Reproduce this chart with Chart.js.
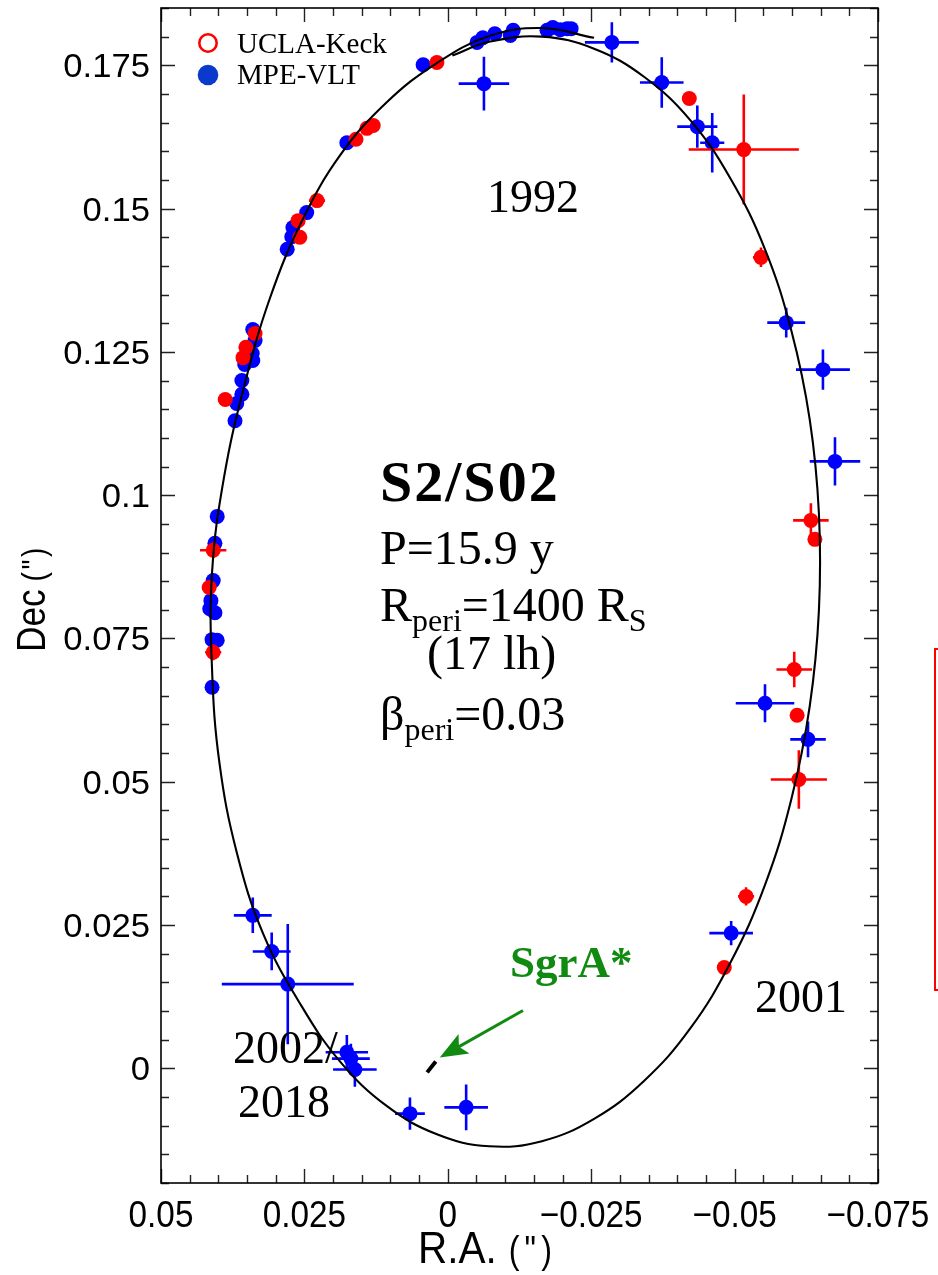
<!DOCTYPE html>
<html>
<head>
<meta charset="utf-8">
<title>S2/S02 orbit</title>
<script src="https://cdn.jsdelivr.net/npm/chart.js@4.4.0/dist/chart.umd.min.js"></script>
<style>
  html, body { margin: 0; padding: 0; background: #fff; }
  #wrap { width: 938px; height: 1275px; }
</style>
</head>
<body>
<div id="wrap"><canvas id="orbitChart" width="938" height="1275"></canvas></div>
<script>
// S2 positions relative to SgrA*, offsets in arcsec (R.A., Dec)

// UCLA-Keck
const keckRA     = [0.0019, 0.0160, 0.0141, 0.0130, 0.0228, 0.0261, 0.0258, 0.0336, 0.0352, 0.0357, 0.0388, 0.0409,
                    0.0416, 0.0409, -0.0421, -0.0516, -0.0546, -0.0633, -0.0640, -0.0604, -0.0609, -0.0612, -0.0520, -0.0482];
const keckDec    = [0.1755, 0.1621, 0.1640, 0.1645, 0.1514, 0.1479, 0.1450, 0.1282, 0.1258, 0.1240, 0.1167, 0.0904,
                    0.0839, 0.0726, 0.1692, 0.1603, 0.1415, 0.0956, 0.0923, 0.0696, 0.0616, 0.0504, 0.0300, 0.0176];
const keckRAErr  = [0, 0, 0, 0, 0.0014, 0, 0, 0, 0, 0, 0, 0.0023,
                    0, 0.0014, 0, 0.0096, 0.0014, 0.0031, 0.0009, 0.0031, 0, 0.0049, 0.0014, 0.0010];
const keckDecErr = [0, 0, 0, 0, 0.0010, 0, 0, 0, 0, 0, 0, 0.0014,
                    0, 0.0014, 0, 0.0096, 0.0017, 0.0030, 0.0009, 0.0031, 0, 0.0051, 0.0016, 0.0010];

// MPE-VLT
const vltRA     = [0.0043, -0.0051, -0.0061, -0.0082, -0.0109, -0.0114, -0.0173, -0.0183, -0.0196, -0.0208, -0.0215,
                   -0.0063, -0.0286, -0.0373, -0.0435, -0.0461, -0.0590, -0.0654, -0.0675, -0.0553, -0.0628, -0.0494,
                   0.0176, 0.0246, 0.0270, 0.0272, 0.0280, 0.0340, 0.0336, 0.0341, 0.0340, 0.0354, 0.0359, 0.0359,
                   0.0368, 0.0371, 0.0402, 0.0406, 0.0409, 0.0413, 0.0415, 0.0406, 0.0411, 0.0402, 0.0411,
                   0.0340, 0.0307, 0.0279, 0.0176, 0.0169, 0.0162, 0.0066, -0.0032];
const vltDec    = [0.1751, 0.1790, 0.1798, 0.1805, 0.1802, 0.1811, 0.1811, 0.1816, 0.1812, 0.1814, 0.1814,
                   0.1718, 0.1790, 0.1720, 0.1643, 0.1615, 0.1301, 0.1219, 0.1059, 0.0637, 0.0574, 0.0236,
                   0.1615, 0.1493, 0.1467, 0.1451, 0.1429, 0.1289, 0.1270, 0.1247, 0.1235, 0.1228, 0.1200, 0.1176,
                   0.1160, 0.1130, 0.0963, 0.0916, 0.0851, 0.0816, 0.0802, 0.0795, 0.0748, 0.0747, 0.0665,
                   0.0267, 0.0204, 0.0147, 0.0028, 0.0017, -0.0002, -0.0079, -0.0068];
const vltRAErr  = [0, 0, 0, 0, 0, 0, 0, 0, 0, 0, 0,
                   0.0044, 0.0047, 0.0038, 0.0035, 0.0021, 0.0033, 0.0047, 0.0044, 0.0051, 0.0031, 0.0038,
                   0, 0, 0, 0, 0, 0, 0, 0, 0, 0, 0, 0,
                   0, 0, 0, 0, 0, 0, 0, 0, 0, 0, 0,
                   0.0033, 0.0033, 0.0115, 0.0037, 0.0033, 0.0038, 0.0026, 0.0038];
const vltDecErr = [0, 0, 0, 0, 0, 0, 0, 0, 0, 0, 0,
                   0.0047, 0.0035, 0.0044, 0.0037, 0.0052, 0.0026, 0.0035, 0.0042, 0.0033, 0.0031, 0.0021,
                   0, 0, 0, 0, 0, 0, 0, 0, 0, 0, 0, 0,
                   0, 0, 0, 0, 0, 0, 0, 0, 0, 0, 0,
                   0.0031, 0.0033, 0.0105, 0.0030, 0.0026, 0.0030, 0.0028, 0.0040];

// Best-fit orbit, a little more than one revolution (the two arcs overlap at the top)
const orbitRA  = [-0.0008, -0.0072, -0.0164, -0.0255, -0.0342, -0.0423, -0.0493, -0.0553, -0.0599, -0.0631,
                  -0.0647, -0.0647, -0.0631, -0.0599, -0.0553, -0.0493, -0.0423, -0.0342, -0.0255, -0.0164,
                  -0.0072, 0.0019, 0.0106, 0.0187, 0.0257, 0.0322, 0.0368, 0.0398, 0.0411, 0.0411,
                  0.0390, 0.0354, 0.0310, 0.0254, 0.0187, 0.0106, 0.0019, -0.0072, -0.0164, -0.0255];
const orbitDec = [0.1767, 0.1791, 0.1800, 0.1779, 0.1730, 0.1654, 0.1552, 0.1429, 0.1287, 0.1132,
                  0.0968, 0.0799, 0.0632, 0.0470, 0.0320, 0.0185, 0.0070, -0.0022, -0.0088, -0.0127,
                  -0.0136, -0.0115, -0.0066, 0.0011, 0.0112, 0.0235, 0.0377, 0.0532, 0.0696, 0.0865,
                  0.1032, 0.1194, 0.1344, 0.1479, 0.1594, 0.1686, 0.1754, 0.1801, 0.1815, 0.1798];

// SgrA* position marker
const sgrRA  = [0.0036, 0.0021];
const sgrDec = [-0.0007, 0.0012];

// Axes
const raMin = -0.075, raMax = 0.05;
const decMin = -0.02, decMax = 0.185;
const minorStep = 0.005;
const raTicks = [0.05, 0.025, 0, -0.025, -0.05, -0.075];
const raTickLabels = ['0.05', '0.025', '0', '\u22120.025', '\u22120.05', '\u22120.075'];
const decTicks = [0, 0.025, 0.05, 0.075, 0.1, 0.125, 0.15, 0.175];
const decTickLabels = ['0', '0.025', '0.05', '0.075', '0.1', '0.125', '0.15', '0.175'];

const SERIF = '"Liberation Serif", "Times New Roman", serif';
const SANS = '"Liberation Sans", Arial, Helvetica, sans-serif';

function toPoints(xs, ys) {
    return xs.map((v, i) => ({ x: v, y: ys[i] }));
}

// text drawn with a horizontal squeeze/stretch factor
function drawScaled(ctx, text, x, y, font, sx, align, spacing) {
    ctx.save();
    ctx.font = font;
    ctx.letterSpacing = (spacing || 0) + 'px';
    const w = ctx.measureText(text).width * sx;
    let x0 = x;
    if (align === 'center') x0 = x - w / 2;
    else if (align === 'right') x0 = x - w;
    ctx.translate(x0, y);
    ctx.scale(sx, 1);
    ctx.textAlign = 'left';
    ctx.fillText(text, 0, 0);
    ctx.restore();
    return w;
}

// runs of text with sub-scripts: [text, fontSize, dy, bold]
function drawRuns(ctx, x, y, runs) {
    let cx = x;
    runs.forEach(r => {
        ctx.font = (r[3] ? 'bold ' : '') + r[1] + 'px ' + SERIF;
        ctx.fillText(r[0], cx, y + r[2]);
        cx += ctx.measureText(r[0]).width;
    });
}

// error bars, drawn under each dataset's markers
const errorBars = {
    id: 'errorBars',
    beforeDatasetDraw(chart, args) {
        const ds = chart.data.datasets[args.index];
        if (!ds.errX) return;
        const { ctx, scales: { x, y } } = chart;
        ctx.save();
        ctx.strokeStyle = ds.backgroundColor;
        ctx.lineWidth = 2.6;
        ds.data.forEach((p, i) => {
            const ex = ds.errX[i], ey = ds.errY[i];
            const px = x.getPixelForValue(p.x), py = y.getPixelForValue(p.y);
            ctx.beginPath();
            if (ex > 0) {
                ctx.moveTo(x.getPixelForValue(p.x - ex), py);
                ctx.lineTo(x.getPixelForValue(p.x + ex), py);
            }
            if (ey > 0) {
                ctx.moveTo(px, y.getPixelForValue(p.y - ey));
                ctx.lineTo(px, y.getPixelForValue(p.y + ey));
            }
            ctx.stroke();
        });
        ctx.restore();
    }
};

// box frame with inward ticks on all four sides, tick labels, axis titles
const frameAxes = {
    id: 'frameAxes',
    beforeDatasetsDraw(chart) {
        const { ctx, chartArea: a, scales: { x, y } } = chart;
        ctx.save();
        ctx.strokeStyle = '#222';
        ctx.lineWidth = 1.4;
        ctx.beginPath();
        for (let k = Math.round(raMin / minorStep); k <= Math.round(raMax / minorStep); k++) {
            const px = Math.round(x.getPixelForValue(k * minorStep)) + 0.5;
            const len = k % 5 === 0 ? 14 : 8;
            ctx.moveTo(px, a.bottom); ctx.lineTo(px, a.bottom - len);
            ctx.moveTo(px, a.top); ctx.lineTo(px, a.top + len);
        }
        for (let k = Math.ceil(decMin / minorStep); k <= Math.floor(decMax / minorStep); k++) {
            const py = Math.round(y.getPixelForValue(k * minorStep)) + 0.5;
            const len = k % 5 === 0 ? 14 : 8;
            ctx.moveTo(a.left, py); ctx.lineTo(a.left + len, py);
            ctx.moveTo(a.right, py); ctx.lineTo(a.right - len, py);
        }
        ctx.stroke();
        ctx.strokeStyle = '#000';
        ctx.lineWidth = 1.6;
        ctx.strokeRect(a.left, a.top, a.right - a.left, a.bottom - a.top);

        ctx.fillStyle = '#000';
        ctx.textBaseline = 'alphabetic';
        raTicks.forEach((v, i) => {
            drawScaled(ctx, raTickLabels[i], x.getPixelForValue(v), a.bottom + 44, '37px ' + SANS, 0.9, 'center');
        });
        decTicks.forEach((v, i) => {
            drawScaled(ctx, decTickLabels[i], a.left - 11, y.getPixelForValue(v) + 12, '33px ' + SANS, 1.05, 'right');
        });

        // axis titles
        let w = drawScaled(ctx, 'R.A.', 418, 1263, '44px ' + SANS, 0.92, 'left');
        drawScaled(ctx, '(")', 418 + w + 12, 1263, '38px ' + SANS, 0.85, 'left', 6);
        ctx.save();
        ctx.translate(45, 652);
        ctx.rotate(-Math.PI / 2);
        w = drawScaled(ctx, 'Dec', 0, 0, '40px ' + SANS, 0.88, 'left');
        drawScaled(ctx, '(")', w + 8, 0, '33px ' + SANS, 0.85, 'left', 3);
        ctx.restore();
        ctx.restore();
    },
    afterDraw(chart) {
        const { ctx, scales: { x, y } } = chart;
        ctx.save();
        ctx.fillStyle = '#000';
        ctx.textBaseline = 'alphabetic';
        ctx.textAlign = 'left';

        // legend, built from the dataset labels
        const keck = chart.data.datasets[1], vlt = chart.data.datasets[2];
        ctx.strokeStyle = '#ff0000';
        ctx.lineWidth = 2.6;
        ctx.beginPath(); ctx.arc(208, 43, 8.7, 0, Math.PI * 2); ctx.stroke();
        ctx.fillStyle = '#0a3acb';
        ctx.beginPath(); ctx.arc(208, 75, 10.3, 0, Math.PI * 2); ctx.fill();
        ctx.fillStyle = '#000';
        ctx.font = '29px ' + SERIF;
        ctx.fillText(keck.label, 237, 53);
        ctx.fillText(vlt.label, 237, 84);

        // orbit summary
        ctx.save();
        ctx.letterSpacing = '2px';
        drawRuns(ctx, 380, 501, [['S2/S02', 58, 0, true]]);
        ctx.restore();
        drawRuns(ctx, 380, 564, [['P=15.9 y', 48, 0]]);
        drawRuns(ctx, 380, 621, [['R', 48, 0], ['peri', 32, 10], ['=1400 R', 48, 0], ['S', 32, 10]]);
        drawRuns(ctx, 427, 669, [['(17 lh)', 48, 0]]);
        drawRuns(ctx, 380, 730, [['\u03b2', 48, 0], ['peri', 32, 10], ['=0.03', 48, 0]]);

        // epochs
        ctx.font = '46px ' + SERIF;
        ctx.fillText('1992', 487, 212);
        ctx.fillText('2001', 755, 1012);
        ctx.fillText('2002/', 233, 1063);
        ctx.fillText('2018', 238, 1117);

        // SgrA* label and arrow to the marker
        ctx.fillStyle = '#118a11';
        ctx.strokeStyle = '#118a11';
        ctx.font = 'bold 45px ' + SERIF;
        ctx.fillText('SgrA*', 510, 977);
        const tx = x.getPixelForValue(0.0014), ty = y.getPixelForValue(0.0019);
        const sx = x.getPixelForValue(-0.0131), sy = y.getPixelForValue(0.0101);
        const ang = Math.atan2(ty - sy, tx - sx);
        ctx.lineWidth = 3;
        ctx.beginPath();
        ctx.moveTo(sx, sy);
        ctx.lineTo(tx - 14 * Math.cos(ang), ty - 14 * Math.sin(ang));
        ctx.stroke();
        ctx.beginPath();
        ctx.moveTo(tx, ty);
        ctx.lineTo(tx - 30 * Math.cos(ang - 0.38), ty - 30 * Math.sin(ang - 0.38));
        ctx.lineTo(tx - 22 * Math.cos(ang), ty - 22 * Math.sin(ang));
        ctx.lineTo(tx - 30 * Math.cos(ang + 0.38), ty - 30 * Math.sin(ang + 0.38));
        ctx.closePath();
        ctx.fill();

        // edge of the neighbouring panel
        ctx.strokeStyle = '#ff0000';
        ctx.lineWidth = 2;
        ctx.strokeRect(935, 649, 40, 341);
        ctx.restore();
    }
};

new Chart(document.getElementById('orbitChart'), {
    type: 'scatter',
    data: {
        datasets: [
            {
                label: 'orbit',
                data: toPoints(orbitRA, orbitDec),
                showLine: true,
                borderColor: '#000',
                borderWidth: 2.1,
                tension: 0.4,
                pointRadius: 0,
                order: 0
            },
            {
                label: 'UCLA-Keck',
                data: toPoints(keckRA, keckDec),
                errX: keckRAErr,
                errY: keckDecErr,
                backgroundColor: '#ff0000',
                borderWidth: 0,
                pointRadius: 7.5,
                order: 1
            },
            {
                label: 'MPE-VLT',
                data: toPoints(vltRA, vltDec),
                errX: vltRAErr,
                errY: vltDecErr,
                backgroundColor: '#0000ff',
                borderWidth: 0,
                pointRadius: 7.5,
                order: 2
            },
            {
                label: 'SgrA*',
                data: toPoints(sgrRA, sgrDec),
                showLine: true,
                borderColor: '#000',
                borderWidth: 4,
                pointRadius: 0,
                order: 0
            }
        ]
    },
    options: {
        responsive: false,
        animation: false,
        events: [],
        devicePixelRatio: 1,
        layout: { padding: { left: 161, right: 60, top: 8, bottom: 92 } },
        plugins: {
            legend: { display: false },
            tooltip: { enabled: false }
        },
        scales: {
            x: { type: 'linear', min: raMin, max: raMax, reverse: true, display: false },
            y: { type: 'linear', min: decMin, max: decMax, display: false }
        }
    },
    plugins: [errorBars, frameAxes]
});
</script>
</body>
</html>
